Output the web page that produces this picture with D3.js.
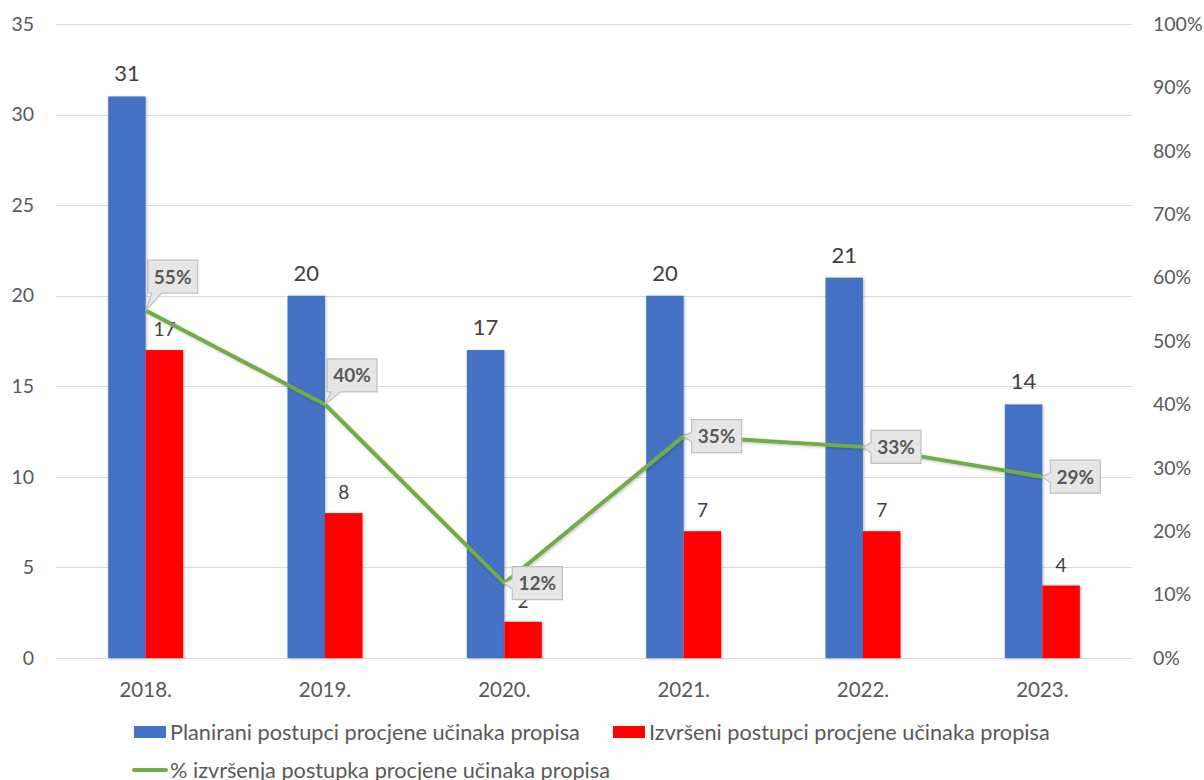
<!DOCTYPE html>
<html><head><meta charset="utf-8">
<script src="https://cdn.jsdelivr.net/npm/d3@7"></script>
<style>body{margin:0;background:#fff;}svg{display:block;font-family:Lato,"Open Sans",sans-serif;}</style>
</head><body>
<svg id="c" width="1204" height="780"></svg>
<script>
const categories = ["2018.","2019.","2020.","2021.","2022.","2023."];
const planned = [31,20,17,20,21,14];
const executed = [17,8,2,7,7,4];
const pctExec = [54.8,40,11.8,35,33.3,28.6];
const pctLabels = ["55%","40%","12%","35%","33%","29%"];
const leftTicks = [0,5,10,15,20,25,30,35];
const rightTicks = [0,10,20,30,40,50,60,70,80,90,100];
const seriesNames = ["Planirani postupci procjene učinaka propisa","Izvršeni postupci procjene učinaka propisa","% izvršenja postupka procjene učinaka propisa"];
// label placement (layout only): vertical shift of the callout box above the point
const labelLift = [26,21,0,0,0,0];

const svg = d3.select("#c");
const L=56, R=1132, T=24, B=658;
const x = d3.scaleBand().domain(categories).range([L,R]).padding(0);
const yL = d3.scaleLinear().domain([0,35]).range([B,T]);
const yR = d3.scaleLinear().domain([0,100]).range([B,T]);
const inner = d3.scaleBand().domain(["p","e"]).range([-37.5,37.5]).padding(0);
const tc="#595959";

const defs=svg.append("defs");
const f=defs.append("filter").attr("id","sh").attr("x","-20%").attr("y","-20%").attr("width","140%").attr("height","140%");
f.append("feDropShadow").attr("dx",1).attr("dy",1).attr("stdDeviation",1.5).attr("flood-color","#000").attr("flood-opacity",0.25);

// gridlines
svg.append("g").selectAll("line").data(leftTicks).join("line")
 .attr("x1",L).attr("x2",R).attr("y1",d=>Math.round(yL(d))+0.5).attr("y2",d=>Math.round(yL(d))+0.5)
 .attr("stroke","#d9d9d9").attr("stroke-width",1);

// left axis
const ga=svg.append("g").attr("transform",`translate(34,0)`).call(d3.axisLeft(yL).tickValues(leftTicks).tickSize(0).tickPadding(0));
ga.select(".domain").remove();
ga.selectAll("text").attr("fill",tc).style("font-size","19.5px").style("font-family","Lato,sans-serif");
// right axis
const gr=svg.append("g").attr("transform",`translate(1153,0)`).call(d3.axisRight(yR).tickValues(rightTicks).tickSize(0).tickPadding(0).tickFormat(d=>d+"%"));
gr.select(".domain").remove();
gr.selectAll("text").attr("fill",tc).style("font-size","19.5px").style("font-family","Lato,sans-serif");
// x axis
const gx=svg.append("g").attr("transform",`translate(0,${B})`).call(d3.axisBottom(x).tickSize(0).tickPadding(24));
gx.select(".domain").remove();
gx.selectAll("text").attr("fill",tc).style("font-size","20.5px").style("font-family","Lato,sans-serif");

// bars
const cx = c=>x(c)+x.bandwidth()/2;
const gb=svg.append("g");
gb.selectAll("rect.p").data(categories).join("rect").attr("class","p")
 .attr("x",(c)=>cx(c)+inner("p")).attr("width",inner.bandwidth())
 .attr("y",(c,i)=>yL(planned[i])).attr("height",(c,i)=>B-yL(planned[i]))
 .attr("fill","#4472c4").attr("filter","url(#sh)");
gb.selectAll("rect.e").data(categories).join("rect").attr("class","e")
 .attr("x",(c)=>cx(c)+inner("e")).attr("width",inner.bandwidth())
 .attr("y",(c,i)=>yL(executed[i])).attr("height",(c,i)=>B-yL(executed[i]))
 .attr("fill","#ff0000").attr("filter","url(#sh)");

// bar labels
svg.append("g").selectAll("text").data(categories).join("text")
 .attr("x",c=>cx(c)+inner("p")+inner.bandwidth()/2).attr("y",(c,i)=>yL(planned[i])-15)
 .attr("text-anchor","middle").attr("fill","#404040").style("font-size","22px").text((c,i)=>planned[i]);
svg.append("g").selectAll("text").data(categories).join("text")
 .attr("x",c=>cx(c)+inner("e")+inner.bandwidth()/2).attr("y",(c,i)=>yL(executed[i])-14)
 .attr("text-anchor","middle").attr("fill","#404040").style("font-size","19px").text((c,i)=>executed[i]);

// line
const line=d3.line().x((d,i)=>cx(categories[i])).y(d=>yR(d));
svg.append("path").datum(pctExec).attr("d",line).attr("fill","none")
 .attr("stroke","#70ad47").attr("stroke-width",4).attr("stroke-linejoin","round").attr("filter","url(#sh)");

// callout labels
const gl=svg.append("g");
pctExec.forEach((v,i)=>{
  const px=cx(categories[i]), py=yR(v);
  const w=50, h=33;
  const lift=labelLift[i];
  const bx = px + (lift>0?2:8);
  const by = lift>0 ? py - lift - h/2 - 8 : py - h/2;
  let d;
  if(lift>0){
    d=`M${bx},${by} H${bx+w} V${by+h} H${bx+14} L${px},${py} L${bx+4},${by+h} H${bx} Z`;
  } else {
    d=`M${bx},${by} H${bx+w} V${by+h} H${bx} V${by+h/2+6} L${px},${py} L${bx},${by+h/2-4} Z`;
  }
  gl.append("path").attr("d",d).attr("fill","#e6e6e6").attr("stroke","#bfbfbf").attr("stroke-width",1.2);
  gl.append("text").attr("x",bx+w/2).attr("y",by+h/2+7).attr("text-anchor","middle")
   .attr("fill","#595959").style("font-size","19px").style("font-weight","bold").text(pctLabels[i]);
});

// legend
const lg=svg.append("g").style("font-size","21.7px").attr("fill",tc);
lg.append("rect").attr("x",134).attr("y",726).attr("width",32).attr("height",12).attr("fill","#4472c4");
lg.append("text").attr("x",170).attr("y",739.5).text(seriesNames[0]);
lg.append("rect").attr("x",613).attr("y",726).attr("width",32).attr("height",12).attr("fill","#ff0000");
lg.append("text").attr("x",649).attr("y",739.5).text(seriesNames[1]);
lg.append("line").attr("x1",134).attr("x2",166).attr("y1",770).attr("y2",770).attr("stroke","#70ad47").attr("stroke-width",4).attr("stroke-linecap","round");
lg.append("text").attr("x",170).attr("y",777.5).text(seriesNames[2]);
</script>
</body></html>
